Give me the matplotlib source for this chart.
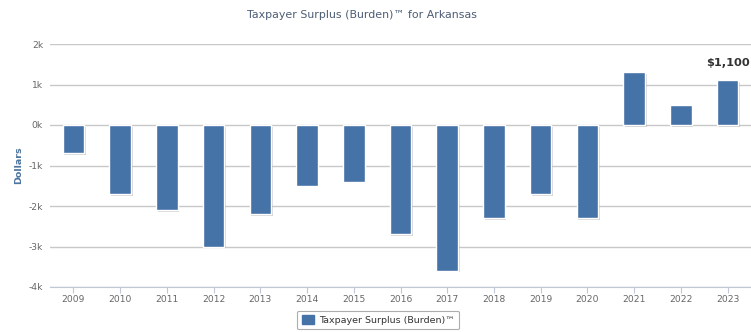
import matplotlib
matplotlib.use("Agg")
import matplotlib.pyplot as plt
import matplotlib.patheffects as pe
from matplotlib.patches import Patch

years = ["2009", "2010", "2011", "2012", "2013", "2014", "2015", "2016",
         "2017", "2018", "2019", "2020", "2021", "2022", "2023"]
values = [-700, -1700, -2100, -3000, -2200, -1500, -1400, -2700,
          -3600, -2300, -1700, -2300, 1300, 500, 1100]
yticks = [-4000, -3000, -2000, -1000, 0, 1000, 2000]
ytick_labels = ["-4k", "-3k", "-2k", "-1k", "0k", "1k", "2k"]
series_name = "Taxpayer Surplus (Burden)™"
title = "Taxpayer Surplus (Burden)™ for Arkansas"
annot_label = "$1,100"

bar_color = "#4572a7"

fig = plt.figure(figsize=(7.51, 3.32), dpi=100)
ax = fig.add_axes([50/751, 1 - 287/332, 701/751, (287-44)/332])

x = list(range(len(years)))
bars = ax.bar(x, values, width=0.46, color=bar_color, edgecolor="white",
              linewidth=1.0, zorder=3)
for b in bars:
    b.set_path_effects([pe.SimplePatchShadow(offset=(1.2, -1.2), shadow_rgbFace="#999999", alpha=0.4),
                        pe.Normal()])

ax.set_xlim(-0.5, len(years) - 0.5)
ax.set_ylim(-4000, 2000)
ax.set_yticks(yticks)
ax.set_yticklabels(ytick_labels)
ax.set_xticks(x)
ax.set_xticklabels(years)

ax.grid(axis="y", color="#c8c8c8", linewidth=1, zorder=0)
ax.set_axisbelow(True)
for s in ["top", "right", "left"]:
    ax.spines[s].set_visible(False)
ax.spines["bottom"].set_color("#c0c8d8")
ax.tick_params(axis="y", length=0, labelsize=6.6, labelcolor="#666666", pad=5)
ax.tick_params(axis="x", length=4, color="#c0c8d8", labelsize=6.6, labelcolor="#666666", pad=2)

ax.set_ylabel("Dollars", color="#4d759e", fontsize=6.8, fontweight="bold", labelpad=4)

fig.text(362/751, 1 - 15/332, title, ha="center", va="center", fontsize=7.9, color="#4d5d75")

ax.annotate(annot_label, xy=(x[-1], values[-1]), xytext=(0, 9), textcoords="offset points",
            ha="center", va="bottom", fontsize=8.2, fontweight="bold", color="#333333")

leg = fig.legend(handles=[Patch(facecolor=bar_color, edgecolor=bar_color, label=series_name)],
                 loc="center", bbox_to_anchor=(378/751, 1 - 320/332), frameon=True,
                 fontsize=6.8, handlelength=1.3, handleheight=1.0, handletextpad=0.5,
                 borderpad=0.5, fancybox=True)
leg.get_frame().set_edgecolor("#999999")
leg.get_frame().set_linewidth(0.8)
for t in leg.get_texts():
    t.set_color("#333333")

fig.savefig("out.png", dpi=100)
